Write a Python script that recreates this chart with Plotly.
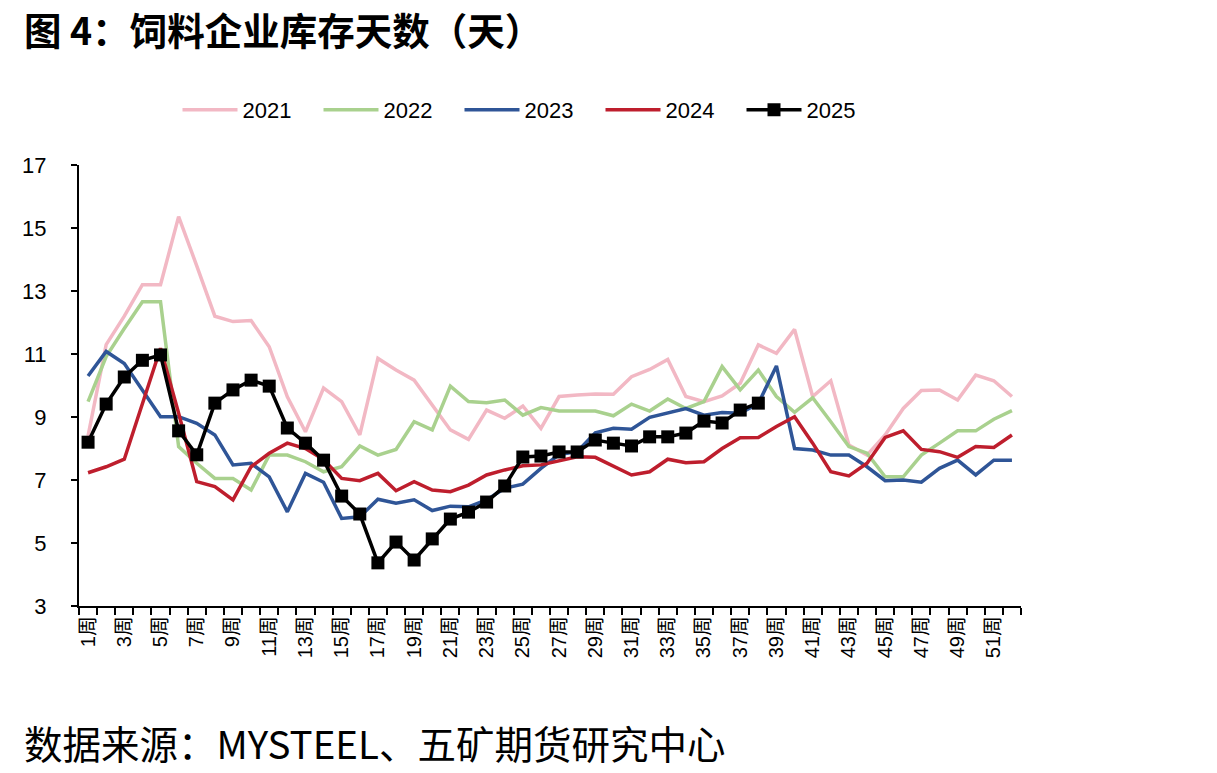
import plotly.graph_objects as go

weeks = list(range(1, 53))
tick_weeks = list(range(1, 53, 2))
tick_labels = [f"{w}周" for w in tick_weeks]

y2021 = [8.4, 11.3, 12.2, 13.2, 13.2, 15.36, 13.8, 12.2, 12.03, 12.06, 11.23, 9.64, 8.53, 9.92,
         9.49, 8.43, 10.86, 10.49, 10.17, 9.38, 8.59, 8.29, 9.22, 8.96, 9.35, 8.64, 9.65, 9.70,
         9.73, 9.72, 10.28, 10.51, 10.83, 9.65, 9.49, 9.67, 10.07, 11.29, 11.02, 11.78, 9.65,
         10.15, 8.11, 7.79, 8.43, 9.27, 9.84, 9.86, 9.54, 10.33, 10.15, 9.65]
y2022 = [9.49, 10.92, 11.81, 12.66, 12.66, 8.06, 7.53, 7.05, 7.05, 6.68, 7.79, 7.79, 7.58, 7.26,
         7.42, 8.08, 7.79, 7.97, 8.85, 8.59, 9.98, 9.49, 9.45, 9.54, 9.06, 9.30, 9.19, 9.19,
         9.19, 9.04, 9.41, 9.19, 9.57, 9.27, 9.49, 10.60, 9.86, 10.49, 9.65, 9.15, 9.61, 8.85,
         8.06, 7.85, 7.10, 7.10, 7.79, 8.17, 8.56, 8.56, 8.93, 9.20]
y2023 = [10.30, 11.08, 10.70, 9.86, 9.01, 9.01, 8.80, 8.43, 7.48, 7.53, 7.10, 5.99, 7.21, 6.93,
         5.78, 5.83, 6.39, 6.26, 6.37, 6.03, 6.17, 6.15, 6.37, 6.74, 6.87, 7.37, 7.81, 7.90,
         8.50, 8.64, 8.61, 8.99, 9.12, 9.27, 9.06, 9.14, 9.12, 9.43, 10.62, 8.00, 7.95, 7.79,
         7.79, 7.42, 6.98, 7.00, 6.93, 7.37, 7.63, 7.16, 7.63, 7.63]
y2024 = [7.23, 7.42, 7.66, 9.43, 11.18, 9.12, 6.95, 6.79, 6.37, 7.42, 7.85, 8.17, 8.00, 7.65,
         7.05, 6.98, 7.21, 6.66, 6.95, 6.68, 6.63, 6.84, 7.16, 7.32, 7.45, 7.48, 7.62, 7.74,
         7.72, 7.44, 7.16, 7.26, 7.66, 7.55, 7.58, 8.00, 8.34, 8.35, 8.70, 9.01, 8.17, 7.26,
         7.13, 7.53, 8.35, 8.56, 7.97, 7.90, 7.72, 8.06, 8.03, 8.43]
y2025 = [8.20, 9.41, 10.27, 10.80, 10.97, 8.56, 7.80, 9.44, 9.86, 10.17, 9.98, 8.65, 8.17, 7.63,
         6.49, 5.92, 4.37, 5.03, 4.46, 5.13, 5.76, 5.98, 6.30, 6.81, 7.73, 7.76, 7.89, 7.89,
         8.27, 8.17, 8.08, 8.37, 8.37, 8.49, 8.87, 8.81, 9.22, 9.44]

series = [
    ("2021", y2021, "#F2B8C4"),
    ("2022", y2022, "#A9D18E"),
    ("2023", y2023, "#2F5597"),
    ("2024", y2024, "#BE1E2D"),
]

CJK = "Arial, 'Liberation Sans', 'Noto Sans CJK SC'"

fig = go.Figure()
for name, ys, color in series:
    fig.add_trace(go.Scatter(x=weeks[:len(ys)], y=ys, name=name, mode="lines",
                             line=dict(color=color, width=3.5)))
fig.add_trace(go.Scatter(x=weeks[:len(y2025)], y=y2025, name="2025", mode="lines+markers",
                         line=dict(color="#000000", width=3.5),
                         marker=dict(symbol="square", size=13, color="#000000")))

L, R, T, B = 79, 1021, 165, 606
W, H = 1217, 773
pw, ph = R - L, B - T

fig.update_layout(
    width=W, height=H,
    margin=dict(l=L, r=W - R, t=T, b=H - B, autoexpand=False),
    paper_bgcolor="white", plot_bgcolor="white",
    font=dict(family=CJK, color="#000000"),
    showlegend=True,
    legend=dict(orientation="h", x=(530 - L) / pw, xanchor="center",
                y=(B - 110) / ph, yanchor="middle",
                font=dict(size=22, family="Arial, 'Liberation Sans'"),
                itemwidth=55, entrywidth=71, entrywidthmode="pixels",
                tracegroupgap=0, bgcolor="rgba(0,0,0,0)"),
    xaxis=dict(range=[0.5, 52.5], tickmode="array", tickvals=tick_weeks, ticktext=tick_labels,
               tickangle=-90, ticks="", showgrid=False, zeroline=False,
               showline=True, linecolor="#000000", linewidth=2,
               tickfont=dict(size=20, family=CJK),
               minor=dict(ticks="outside", tick0=0.5, dtick=1, ticklen=7,
                          tickcolor="#000000", tickwidth=2, showgrid=False)),
    yaxis=dict(range=[3, 17], tickmode="array", tickvals=list(range(3, 18, 2)),
               ticks="outside", ticklen=6, tickwidth=2, tickcolor="#000000",
               showgrid=False, zeroline=False, showline=True, linecolor="#000000",
               linewidth=2, tickfont=dict(size=22, family="Arial, 'Liberation Sans'"),
               ticklabelstandoff=20),
)

fig.add_annotation(text="<b>图 4：饲料企业库存天数（天）</b>", xref="paper", yref="paper",
                   x=(22 - L) / pw, y=(B - 28) / ph, xanchor="left", yanchor="middle",
                   showarrow=False, font=dict(size=37.5, family="'Noto Sans CJK SC'", color="#000000"))
fig.add_annotation(text="数据来源：MYSTEEL、五矿期货研究中心", xref="paper", yref="paper",
                   x=(22 - L) / pw, y=(B - 742) / ph, xanchor="left", yanchor="middle",
                   showarrow=False, font=dict(size=38.5, family="'Noto Sans CJK SC'", color="#000000"))

fig.write_html("out.html")
